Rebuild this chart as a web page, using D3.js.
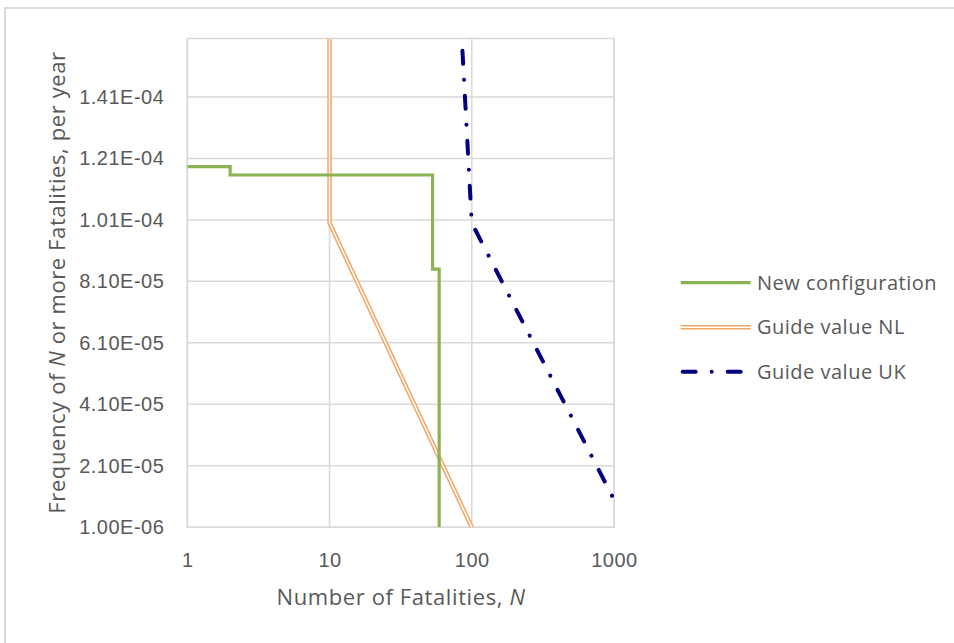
<!DOCTYPE html>
<html>
<head>
<meta charset="utf-8">
<script src="https://cdn.jsdelivr.net/npm/d3@7/dist/d3.min.js"></script>
<style>
  html, body { margin: 0; padding: 0; background: #fff; }
  svg { display: block; font-family: "Open Sans", "Noto Sans", sans-serif; }
</style>
</head>
<body>
<svg id="chart" width="954" height="643"></svg>
<script>
// F-N curve: cumulative frequency of N or more fatalities per year
const newConfigN = [1, 2, 2, 53, 53, 59, 59];
const newConfigF = [1.183e-4, 1.183e-4, 1.156e-4, 1.156e-4, 8.5e-5, 8.5e-5, 1e-6];

const guideNLN = [10, 10, 100];
const guideNLF = [1.6e-4, 1e-4, 1e-6];

const guideUKN = [86, 100, 1000];
const guideUKF = [1.56e-4, 1e-4, 1e-5];

const xTicks = [1, 10, 100, 1000];
const xTickLabels = ["1", "10", "100", "1000"];
const yTicks = [1e-6, 2.1e-5, 4.1e-5, 6.1e-5, 8.1e-5, 1.01e-4, 1.21e-4, 1.41e-4];
const yTickLabels = ["1.00E-06", "2.10E-05", "4.10E-05", "6.10E-05", "8.10E-05", "1.01E-04", "1.21E-04", "1.41E-04"];

const seriesNames = ["New configuration", "Guide value NL", "Guide value UK"];

const svg = d3.select("#chart");
const plot = { left: 187.3, right: 614, top: 38.5, bottom: 527.3 };

const x = d3.scaleLog().domain([1, 1000]).range([plot.left, plot.right]);
const y = d3.scaleLinear().domain([1e-6, 1.6e-4]).range([plot.bottom, plot.top]);

const gridColor = "#d9d9d9";
const textColor = "#595959";
const green = "#8cb253";
const orange = "#f2a86a";
const navy = "#00007f";

// outer chart frame
svg.append("rect")
  .attr("x", 5).attr("y", 8).attr("width", 960).attr("height", 650)
  .attr("fill", "none").attr("stroke", gridColor).attr("stroke-width", 2);

// gridlines
const grid = svg.append("g").attr("stroke", gridColor).attr("stroke-width", 1.5);
grid.selectAll("line.h").data(yTicks).join("line")
  .attr("x1", plot.left).attr("x2", plot.right)
  .attr("y1", d => y(d)).attr("y2", d => y(d));
grid.selectAll("line.v").data(xTicks).join("line")
  .attr("x1", d => x(d)).attr("x2", d => x(d))
  .attr("y1", plot.top).attr("y2", plot.bottom);
grid.append("rect")
  .attr("x", plot.left).attr("y", plot.top)
  .attr("width", plot.right - plot.left).attr("height", plot.bottom - plot.top)
  .attr("fill", "none");

// axes (labels only, no tick marks)
const xAxis = d3.axisBottom(x).tickValues(xTicks)
  .tickFormat((d, i) => xTickLabels[i]).tickSize(0).tickPadding(0);
const gx = svg.append("g").attr("transform", `translate(0,${plot.bottom})`).call(xAxis);
gx.select(".domain").remove();
gx.selectAll("text").attr("fill", textColor).attr("font-size", 20)
  .attr("letter-spacing", 0.5)
  .attr("font-family", null).attr("dy", null).attr("y", 40);

const yAxis = d3.axisLeft(y).tickValues(yTicks)
  .tickFormat((d, i) => yTickLabels[i]).tickSize(0).tickPadding(23);
const gy = svg.append("g").attr("transform", `translate(${plot.left},0)`).call(yAxis);
gy.select(".domain").remove();
gy.selectAll("text").attr("fill", textColor).attr("font-size", 20)
  .attr("letter-spacing", 0.5).attr("font-family", null);

// axis titles
const xTitle = svg.append("text")
  .attr("x", 401).attr("y", 605)
  .attr("text-anchor", "middle").attr("fill", textColor)
  .attr("font-size", 22).attr("letter-spacing", 0.6);
xTitle.append("tspan").text("Number of Fatalities, ");
xTitle.append("tspan").attr("font-style", "italic").text("N");

const yTitle = svg.append("text")
  .attr("transform", `translate(65,282.5) rotate(-90)`)
  .attr("text-anchor", "middle").attr("fill", textColor)
  .attr("font-size", 22).attr("letter-spacing", 0.6);
yTitle.append("tspan").text("Frequency of ");
yTitle.append("tspan").attr("font-style", "italic").text("N");
yTitle.append("tspan").text(" or more Fatalities, per year");

// series
svg.append("clipPath").attr("id", "plotClip").append("rect")
  .attr("x", plot.left).attr("y", plot.top)
  .attr("width", plot.right - plot.left).attr("height", plot.bottom - plot.top);

const line = d3.line().x(d => x(d[0])).y(d => y(d[1]));
const zip = (a, b) => a.map((v, i) => [v, b[i]]);
const series = svg.append("g").attr("clip-path", "url(#plotClip)").attr("fill", "none");

const ukDash = "13 16 0.01 16";

// Guide value NL: double line (orange outline, white core)
series.append("path").datum(zip(guideNLN, guideNLF)).attr("d", line)
  .attr("stroke", orange).attr("stroke-width", 4.5);
series.append("path").datum(zip(guideNLN, guideNLF)).attr("d", line)
  .attr("stroke", "#fff").attr("stroke-width", 1.4);

// New configuration
series.append("path").datum(zip(newConfigN, newConfigF)).attr("d", line)
  .attr("stroke", green).attr("stroke-width", 3.2);

// Guide value UK: long-dash-dot
series.append("path").datum(zip(guideUKN, guideUKF)).attr("d", line)
  .attr("stroke", navy).attr("stroke-width", 4)
  .attr("stroke-dasharray", ukDash).attr("stroke-linecap", "round");

// legend
const legend = svg.append("g");
const rowY = [282.7, 327.2, 371.7];
const lx1 = 680.7, lx2 = 750.7;
legend.append("line").attr("x1", lx1).attr("x2", lx2).attr("y1", rowY[0]).attr("y2", rowY[0])
  .attr("stroke", green).attr("stroke-width", 3.2);
legend.append("line").attr("x1", lx1).attr("x2", lx2).attr("y1", rowY[1]).attr("y2", rowY[1])
  .attr("stroke", orange).attr("stroke-width", 4.5);
legend.append("line").attr("x1", lx1).attr("x2", lx2).attr("y1", rowY[1]).attr("y2", rowY[1])
  .attr("stroke", "#fff").attr("stroke-width", 1.4);
legend.append("line").attr("x1", lx1 + 2).attr("x2", lx2).attr("y1", rowY[2]).attr("y2", rowY[2])
  .attr("stroke", navy).attr("stroke-width", 4)
  .attr("stroke-dasharray", ukDash).attr("stroke-linecap", "round");
legend.selectAll("text").data(seriesNames).join("text")
  .attr("x", 757).attr("y", (d, i) => rowY[i]).attr("dy", "0.35em")
  .attr("fill", textColor).attr("font-size", 20).attr("letter-spacing", 0.5)
  .text(d => d);
</script>
</body>
</html>
